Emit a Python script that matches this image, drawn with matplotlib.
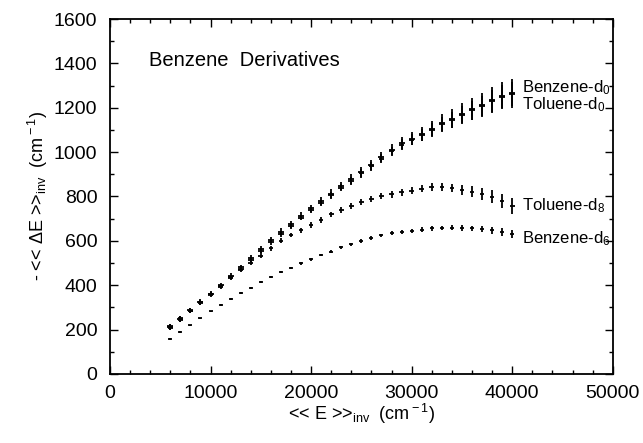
import matplotlib
matplotlib.use("Agg")
import matplotlib.pyplot as plt
from matplotlib.ticker import MultipleLocator

plt.rcParams['font.family'] = ['Liberation Sans', 'DejaVu Sans']
plt.rcParams['mathtext.fontset'] = 'custom'
plt.rcParams['mathtext.rm'] = 'Liberation Sans'
plt.rcParams['mathtext.it'] = 'Liberation Sans'

# <<E>>_inv grid (cm-1)
energy = [6000, 7000, 8000, 9000, 10000, 11000, 12000, 13000, 14000, 15000,
          16000, 17000, 18000, 19000, 20000, 21000, 22000, 23000, 24000, 25000,
          26000, 27000, 28000, 29000, 30000, 31000, 32000, 33000, 34000, 35000,
          36000, 37000, 38000, 39000, 40000]

# -<<dE>>_inv values (cm-1)
benzene_d0 = [211, 248, 287, 324, 361, 400, 441, 480, 521, 561, 603, 641, 674, 714, 746,
              778, 813, 847, 879, 911, 943, 978, 1010, 1042, 1061,
              1082, 1106, 1132, 1151, 1174, 1193, 1213, 1234, 1255, 1265]
toluene_d0 = [216, 251, 285, 320, 355, 394, 433, 474, 514, 554, 593, 631, 666, 705, 738,
              771, 806, 840, 871, 904, 937, 970, 1003, 1033, 1056,
              1078, 1100, 1125, 1146, 1169, 1188, 1209, 1230, 1250, 1262]
toluene_d8 = [207, 243, 284, 323, 359, 397, 436, 470, 502, 531, 566, 601, 626, 648, 671,
              694, 719, 739, 757, 775, 788, 801, 810, 818, 826,
              835, 841, 842, 838, 830, 821, 810, 799, 778, 756]
benzene_d6 = [158, 189, 219, 251, 282, 310, 337, 363, 388, 413, 436, 459, 479, 498, 517,
              536, 551, 570, 585, 598, 612, 625, 634, 639, 645,
              651, 656, 658, 660, 658, 656, 652, 648, 641, 632]

# error bar half-lengths
err_benzene_d0 = [12, 12, 12, 12, 12, 12, 13, 13, 13, 14, 14, 15, 15, 16, 17, 18, 19, 20,
                  21, 22, 23, 24, 25, 27, 29, 32, 35, 38, 42, 46, 50, 54, 58, 62, 66]
err_toluene_d0 = [10, 10, 10, 10, 10, 10, 11, 11, 11, 12, 12, 12, 13, 13, 14, 15, 16, 17,
                  18, 19, 20, 21, 22, 24, 26, 28, 30, 33, 36, 39, 42, 45, 48, 52, 55]
err_toluene_d8 = [9, 9, 9, 9, 9, 10, 10, 10, 10, 10, 11, 11, 11, 12, 12, 12, 12, 13,
                  13, 13, 14, 14, 15, 15, 16, 17, 18, 19, 20, 22, 24, 26, 28, 31, 35]
err_benzene_d6 = [3, 3, 3, 3, 3, 4, 4, 4, 4, 5, 5, 5, 5, 6, 6, 6, 7, 7,
                  7, 8, 8, 8, 9, 9, 10, 10, 11, 11, 12, 12, 13, 14, 15, 17, 19]

series = [
    (benzene_d0, err_benzene_d0, 300),
    (toluene_d0, err_toluene_d0, 280),
    (toluene_d8, err_toluene_d8, 230),
    (benzene_d6, err_benzene_d6, 200),
]

fig = plt.figure(figsize=(6.43, 4.43), dpi=100)
ax = fig.add_axes([0.171, 0.156, 0.782, 0.801])

for vals, errs, xw in series:
    ax.errorbar(energy, vals, yerr=errs, xerr=xw, fmt='none',
                ecolor='black', elinewidth=1.3, capsize=0)

ax.set_xlim(0, 50000)
ax.set_ylim(0, 1600)
ax.xaxis.set_major_locator(MultipleLocator(10000))
ax.xaxis.set_minor_locator(MultipleLocator(2000))
ax.yaxis.set_major_locator(MultipleLocator(200))
ax.yaxis.set_minor_locator(MultipleLocator(100))
ax.tick_params(which='both', direction='in', top=True, right=True,
               labelsize=14, width=1.0)
ax.tick_params(which='major', length=6)
ax.tick_params(which='minor', length=3)
ax.tick_params(axis='x', which='major', pad=8)
ax.tick_params(axis='y', which='major', pad=9)
for sp in ax.spines.values():
    sp.set_linewidth(1.3)

ax.set_xlabel(r'<< E >>$_{\rm inv}$  (cm$^{\rm -1}$)', fontsize=13, labelpad=0)
ax.set_ylabel(r'- << $\Delta$E >>$_{\rm inv}$  (cm$^{\rm -1}$)', fontsize=13, labelpad=3)

ax.text(3900, 1411, 'Benzene  Derivatives', fontsize=14.5, va='center', ha='left')

ax.text(41000, 1292, r'Benzene-d$_0$', fontsize=12, va='center', ha='left')
ax.text(41000, 1212, r'Toluene-d$_0$', fontsize=12, va='center', ha='left')
ax.text(41000, 758, r'Toluene-d$_8$', fontsize=12, va='center', ha='left')
ax.text(41000, 612, r'Benzene-d$_6$', fontsize=12, va='center', ha='left')

plt.savefig('out.png', dpi=100)
plt.close()
